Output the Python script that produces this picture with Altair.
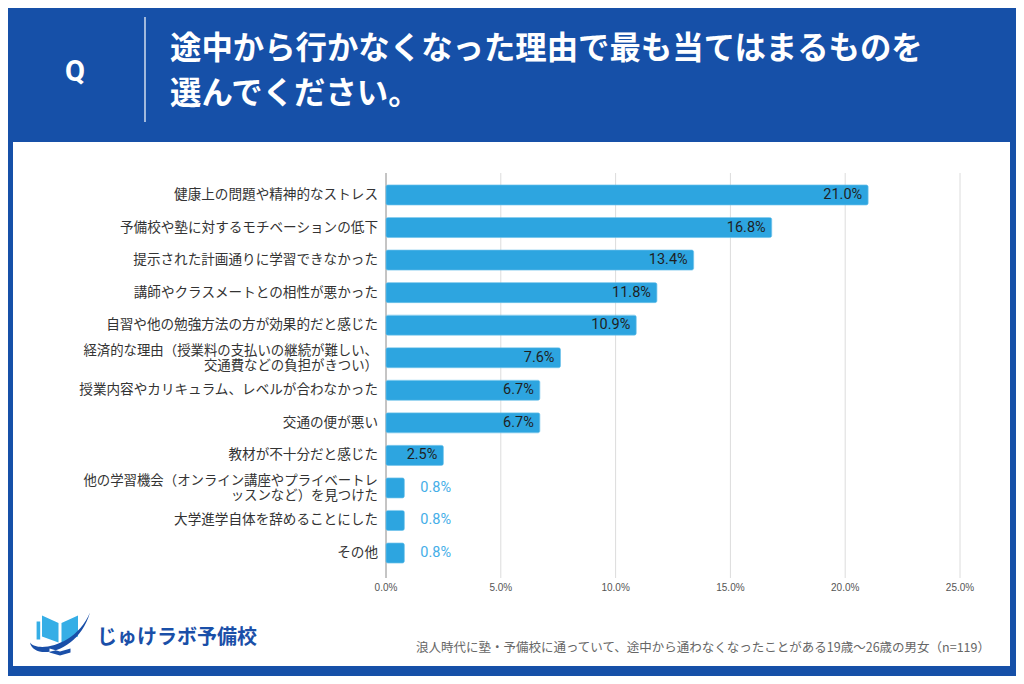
import altair as alt
import pandas as pd

# ---- data ----
categories = [
    "健康上の問題や精神的なストレス",
    "予備校や塾に対するモチベーションの低下",
    "提示された計画通りに学習できなかった",
    "講師やクラスメートとの相性が悪かった",
    "自習や他の勉強方法の方が効果的だと感じた",
    "経済的な理由（授業料の支払いの継続が難しい、\n交通費などの負担がきつい）",
    "授業内容やカリキュラム、レベルが合わなかった",
    "交通の便が悪い",
    "教材が不十分だと感じた",
    "他の学習機会（オンライン講座やプライベートレ\nッスンなど）を見つけた",
    "大学進学自体を辞めることにした",
    "その他",
]
values = [21.0, 16.8, 13.4, 11.8, 10.9, 7.6, 6.7, 6.7, 2.5, 0.8, 0.8, 0.8]
ticks = [0, 5, 10, 15, 20, 25]
tick_labels = ["0.0%", "5.0%", "10.0%", "15.0%", "20.0%", "25.0%"]
title_lines = ["途中から行かなくなった理由で最も当てはまるものを", "選んでください。"]
q_label = "Q"
note = "浪人時代に塾・予備校に通っていて、途中から通わなくなったことがある19歳～26歳の男女（n=119）"
brand = "じゅけラボ予備校"

# ---- styles ----
BLUE_BG = "#1650A8"
BAR = "#2DA5E0"
JP = "Noto Sans CJK JP"

df = pd.DataFrame({"cat": categories, "v": values})
tick_df = pd.DataFrame({"t": ticks, "lab": tick_labels})
one = pd.DataFrame({"k": [0]})

xs = alt.Scale(domain=[0, 25], range=[378, 952])
ys = alt.Scale(domain=categories, range=[170.7, 561.3], paddingInner=0.385, paddingOuter=0.1925)
y_enc = alt.Y("cat:N", scale=ys, axis=None, sort=None)

panel = alt.Chart(one).mark_rect(color="white").encode(
    x=alt.value(5), x2=alt.value(1002), y=alt.value(134), y2=alt.value(658)
)

grid = alt.Chart(tick_df).mark_rule(strokeWidth=1).encode(
    x=alt.X("t:Q", scale=xs, axis=None),
    y=alt.value(165), y2=alt.value(570),
    color=alt.condition("datum.t == 0", alt.value("#8a8a8a"), alt.value("#dcdcdc")),
)

tick_text = alt.Chart(tick_df).mark_text(
    font="Liberation Sans", fontSize=10, color="#555555", baseline="middle"
).encode(x=alt.X("t:Q", scale=xs, axis=None), y=alt.value(580), text="lab:N")

bars = alt.Chart(df).mark_bar(color=BAR, cornerRadius=2, stroke="#5bbbe8", strokeWidth=0.6).encode(
    x=alt.X("v:Q", scale=xs, axis=None), y=y_enc
)

inside = alt.Chart(df).transform_filter("datum.v >= 2").transform_calculate(
    lab="format(datum.v, '.1f') + '%'"
).mark_text(align="right", baseline="middle", dx=-6, font="Roboto", fontSize=14.5, color="#1f1f1f").encode(
    x=alt.X("v:Q", scale=xs, axis=None), y=y_enc, text="lab:N"
)

outside = alt.Chart(df).transform_filter("datum.v < 2").transform_calculate(
    lab="format(datum.v, '.1f') + '%'"
).mark_text(align="left", baseline="middle", dx=16, font="Roboto", fontSize=14.5, color="#45aee8").encode(
    x=alt.X("v:Q", scale=xs, axis=None), y=y_enc, text="lab:N"
)

cat_single = alt.Chart(df).transform_filter("indexof(datum.cat, '\\n') < 0").mark_text(
    align="right", baseline="middle", font=JP, fontSize=13.6, color="#333333"
).encode(x=alt.value(370), y=y_enc, text="cat:N")

cat_multi = alt.Chart(df).transform_filter("indexof(datum.cat, '\\n') >= 0").mark_text(
    align="right", baseline="middle", font=JP, fontSize=13.4, color="#333333",
    lineBreak="\n", lineHeight=15, dy=-6.5
).encode(x=alt.value(370), y=y_enc, text="cat:N")

q_df = pd.DataFrame({"q": [q_label]})
q_text = alt.Chart(q_df).mark_text(
    font="Roboto", fontSize=29, fontWeight="bold", color="white", align="center", baseline="middle"
).encode(x=alt.value(67), y=alt.value(64), text="q:N")

sep = alt.Chart(one).mark_rule(color="white", strokeWidth=1.2).encode(
    x=alt.value(137), y=alt.value(9), y2=alt.value(114)
)

t_df = pd.DataFrame({"t": ["\n".join(title_lines)]})
title = alt.Chart(t_df).mark_text(
    font=JP, fontSize=31.4, fontWeight="bold", color="white", align="left", baseline="middle",
    lineBreak="\n", lineHeight=45
).encode(x=alt.value(162), y=alt.value(42), text="t:N")

n_df = pd.DataFrame({"n": [note]})
note_text = alt.Chart(n_df).mark_text(
    font=JP, fontSize=12.5, color="#666666", align="right", baseline="middle"
).encode(x=alt.value(982), y=alt.value(640), text="n:N")

b_df = pd.DataFrame({"b": [brand]})
brand_text = alt.Chart(b_df).mark_text(
    font=JP, fontSize=20, fontWeight="bold", color="#1a4fa8", align="left", baseline="middle"
).encode(x=alt.value(89), y=alt.value(630), text="b:N")

book_path = ("M -0.6 -0.55 L -0.05 -0.3 L -0.05 0.35 L -0.6 0.15 Z "
             "M 0.05 -0.3 L 0.6 -0.55 L 0.6 0.15 L 0.05 0.35 Z "
             "M -0.78 -0.35 L -0.66 -0.35 L -0.66 0.25 L -0.78 0.25 Z")
swoosh_path = ("M -1 0.35 C -0.9 0.95 0.6 0.75 1 -0.65 C 0.55 0.45 -0.75 0.7 -1 0.35 Z "
               "M -0.35 0.55 L 0 0.65 L 0.35 0.55 L 0.35 0.68 L 0 0.78 L -0.35 0.68 Z")
logo_book = alt.Chart(one).mark_point(shape=book_path, filled=True, color="#35aee6", opacity=1, size=3600).encode(
    x=alt.value(52), y=alt.value(624)
)
logo_swoosh = alt.Chart(one).mark_point(shape=swoosh_path, filled=True, color="#1a4fa8", opacity=1, size=3600).encode(
    x=alt.value(52), y=alt.value(624)
)

chart = alt.layer(
    panel, grid, bars, inside, outside, tick_text, cat_single, cat_multi,
    q_text, sep, title, note_text, brand_text, logo_book, logo_swoosh
).properties(
    width=1008, height=668, padding=0,
    autosize=alt.AutoSizeParams(type="none"),
    background=BLUE_BG,
).configure_view(stroke=None)

chart.save("out.html", embed_options={"renderer": "svg", "actions": False})
